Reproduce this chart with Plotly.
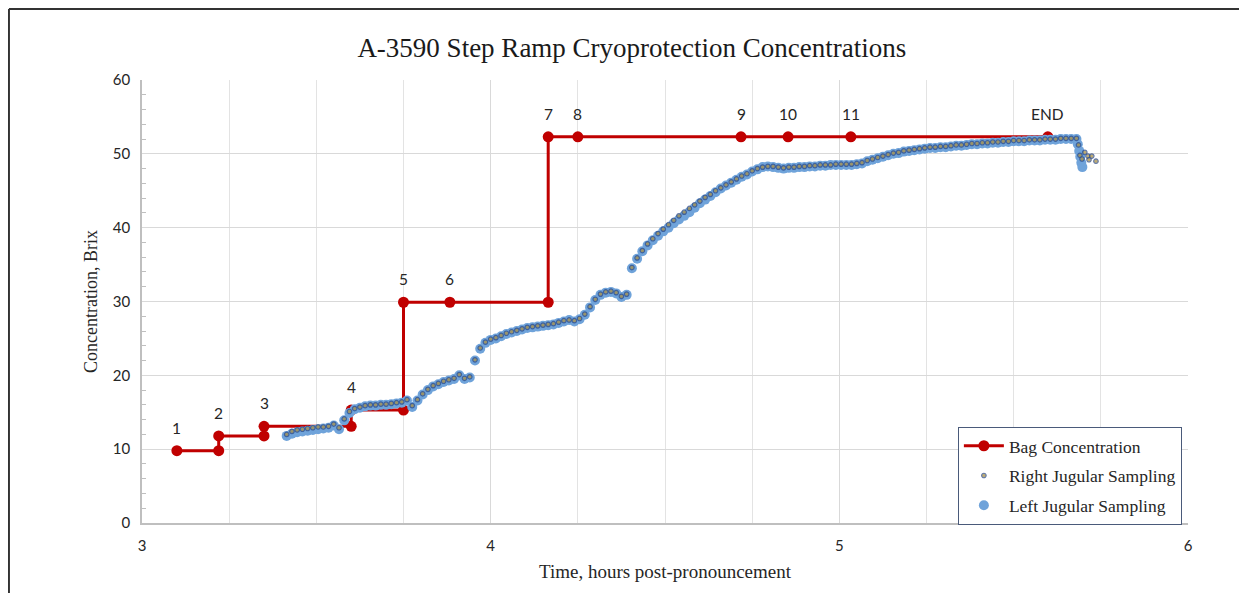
import plotly.graph_objects as go

# ---------------- data ----------------
bag_time = [3.10, 3.22, 3.22, 3.35, 3.35, 3.60, 3.60, 3.75, 3.75, 3.883, 4.165, 4.165,
            4.25, 4.718, 4.853, 5.033, 5.598]
bag_brix = [9.8, 9.8, 11.8, 11.8, 13.1, 13.1, 15.3, 15.3, 29.9, 29.9, 29.9, 52.3,
            52.3, 52.3, 52.3, 52.3, 52.3]

label_time = [3.10, 3.22, 3.35, 3.60, 3.75, 3.883, 4.165, 4.25, 4.718, 4.853, 5.033, 5.598]
label_brix = [9.8, 11.8, 13.1, 15.3, 29.9, 29.9, 52.3, 52.3, 52.3, 52.3, 52.3, 52.3]
label_text = ["1", "2", "3", "4", "5", "6", "7", "8", "9", "10", "11", "END"]

sample_time = [
    3.415, 3.430, 3.445, 3.460, 3.475, 3.490, 3.505, 3.520, 3.535, 3.550,
    3.565, 3.580, 3.595, 3.610, 3.625, 3.640, 3.655, 3.670, 3.685, 3.700,
    3.715, 3.730, 3.745, 3.760, 3.775, 3.790, 3.805, 3.820, 3.835, 3.850,
    3.865, 3.880, 3.895, 3.910, 3.925, 3.940, 3.955, 3.970, 3.985, 4.000,
    4.015, 4.030, 4.045, 4.060, 4.075, 4.090, 4.105, 4.120, 4.135, 4.150,
    4.165, 4.180, 4.195, 4.210, 4.225, 4.240, 4.255, 4.270, 4.285, 4.300,
    4.315, 4.330, 4.345, 4.360, 4.375, 4.390, 4.405, 4.420, 4.435, 4.450,
    4.465, 4.480, 4.495, 4.510, 4.525, 4.540, 4.555, 4.570, 4.585, 4.600,
    4.615, 4.630, 4.645, 4.660, 4.675, 4.690, 4.705, 4.720, 4.735, 4.750,
    4.765, 4.780, 4.795, 4.810, 4.825, 4.840, 4.855, 4.870, 4.885, 4.900,
    4.915, 4.930, 4.945, 4.960, 4.975, 4.990, 5.005, 5.020, 5.035, 5.050,
    5.065, 5.080, 5.095, 5.110, 5.125, 5.140, 5.155, 5.170, 5.185, 5.200,
    5.215, 5.230, 5.245, 5.260, 5.275, 5.290, 5.305, 5.320, 5.335, 5.350,
    5.365, 5.380, 5.395, 5.410, 5.425, 5.440, 5.455, 5.470, 5.485, 5.500,
    5.515, 5.530, 5.545, 5.560, 5.575, 5.590, 5.605, 5.620, 5.635, 5.650,
    5.665, 5.680,
]

left_brix = [
    11.8, 12.1, 12.3, 12.4, 12.5, 12.6, 12.7, 12.8, 12.9, 13.2,
    12.7, 13.9, 14.9, 15.4, 15.6, 15.8, 15.9, 15.9, 16.0, 16.0,
    16.1, 16.2, 16.3, 16.6, 15.7, 16.6, 17.4, 18.0, 18.5, 18.8,
    19.1, 19.3, 19.5, 20.0, 19.5, 19.7, 22.0, 23.6, 24.4, 24.8,
    25.0, 25.3, 25.6, 25.8, 26.0, 26.2, 26.4, 26.5, 26.6, 26.7,
    26.8, 26.9, 27.1, 27.3, 27.5, 27.3, 27.6, 28.2, 29.2, 30.2,
    30.9, 31.2, 31.3, 31.1, 30.6, 30.9, 34.5, 35.8, 36.8, 37.6,
    38.3, 38.9, 39.5, 40.0, 40.6, 41.1, 41.6, 42.1, 42.7, 43.3,
    43.8, 44.3, 44.8, 45.3, 45.7, 46.1, 46.5, 46.9, 47.2, 47.6,
    47.9, 48.2, 48.3, 48.2, 48.1, 48.0, 48.1, 48.1, 48.2, 48.2,
    48.3, 48.3, 48.4, 48.4, 48.5, 48.5, 48.5, 48.5, 48.5, 48.6,
    48.7, 49.0, 49.2, 49.4, 49.6, 49.8, 50.0, 50.1, 50.3, 50.4,
    50.5, 50.6, 50.7, 50.8, 50.8, 50.9, 50.9, 51.0, 51.1, 51.1,
    51.2, 51.3, 51.3, 51.4, 51.4, 51.5, 51.5, 51.6, 51.6, 51.7,
    51.7, 51.7, 51.8, 51.8, 51.8, 51.9, 51.9, 51.9, 52.0, 52.0,
    52.0, 52.0,
]

right_brix = [
    12.0, 12.4, 12.6, 12.7, 12.8, 12.9, 13.0, 13.0, 13.1, 13.4,
    12.9, 14.1, 15.1, 15.5, 15.7, 15.9, 16.0, 16.0, 16.1, 16.1,
    16.2, 16.3, 16.4, 16.7, 15.9, 16.7, 17.5, 18.1, 18.6, 18.9,
    19.2, 19.4, 19.6, 20.1, 19.6, 19.8, 22.1, 23.7, 24.5, 24.9,
    25.1, 25.4, 25.7, 25.9, 26.1, 26.3, 26.5, 26.6, 26.7, 26.8,
    26.9, 27.0, 27.2, 27.4, 27.5, 27.4, 27.7, 28.3, 29.3, 30.3,
    31.0, 31.3, 31.4, 31.2, 30.7, 31.0, 34.6, 35.9, 36.9, 37.8,
    38.5, 39.2, 39.8, 40.4, 41.0, 41.6, 42.1, 42.6, 43.1, 43.6,
    44.1, 44.5, 45.0, 45.4, 45.8, 46.2, 46.6, 47.0, 47.3, 47.7,
    48.0, 48.2, 48.3, 48.3, 48.2, 48.1, 48.2, 48.2, 48.3, 48.3,
    48.4, 48.4, 48.5, 48.5, 48.5, 48.6, 48.6, 48.6, 48.6, 48.7,
    48.8, 49.1, 49.3, 49.5, 49.7, 49.9, 50.1, 50.2, 50.4, 50.5,
    50.6, 50.7, 50.8, 50.9, 50.9, 51.0, 51.0, 51.1, 51.2, 51.2,
    51.3, 51.4, 51.4, 51.5, 51.5, 51.6, 51.6, 51.7, 51.7, 51.8,
    51.8, 51.8, 51.9, 51.9, 51.9, 52.0, 52.0, 52.0, 52.1, 52.1,
    52.1, 52.1,
]

left_tail_time = [5.684, 5.688, 5.691, 5.694, 5.697]
left_tail_brix = [51.3, 50.4, 49.6, 48.8, 48.2]
right_tail_time = [5.686, 5.690, 5.696, 5.704, 5.713, 5.716, 5.724, 5.736]
right_tail_brix = [51.2, 49.8, 49.3, 50.2, 49.7, 49.2, 49.7, 49.0]

# ---------------- figure ----------------
serif = "Liberation Serif, Times New Roman, serif"
sans = "Lato, Open Sans, sans-serif"

fig = go.Figure()

fig.add_trace(go.Scatter(
    x=bag_time, y=bag_brix, mode="lines+markers", name="Bag Concentration",
    line=dict(color="#C00000", width=3),
    marker=dict(color="#C00000", size=11),
    legendrank=1, legendgroup="bag",
))
fig.add_trace(go.Scatter(
    x=sample_time + left_tail_time, y=left_brix + left_tail_brix,
    mode="markers", name="Left Jugular Sampling",
    marker=dict(color="#6FA3DA", size=10, line=dict(width=0)),
    legendrank=3, legendgroup="left",
))
fig.add_trace(go.Scatter(
    x=sample_time + right_tail_time, y=right_brix + right_tail_brix,
    mode="markers", name="Right Jugular Sampling",
    marker=dict(color="#A89048", size=4.5, opacity=0.75,
                line=dict(color="#2E4C8A", width=1.2)),
    legendrank=2, legendgroup="right",
))

for t, b, s in zip(label_time, label_brix, label_text):
    fig.add_annotation(x=t, y=b, text=s, showarrow=False, yanchor="bottom",
                       yshift=12, font=dict(family=sans, size=15.5, color="#262626"))

fig.update_layout(
    width=1239, height=585,
    paper_bgcolor="white", plot_bgcolor="white",
    margin=dict(l=134, r=59, t=72, b=70),
    title=dict(text="A-3590 Step Ramp Cryoprotection Concentrations",
               x=0.5035, xanchor="center", y=0.933, yanchor="middle",
               font=dict(family=serif, size=27, color="#1a1a1a")),
    legend=dict(x=0.780, y=0.217, xanchor="left", yanchor="top",
                bgcolor="white", bordercolor="#4A5A7A", borderwidth=1,
                font=dict(family=serif, size=17.5, color="#262626"),
                itemsizing="trace", itemwidth=40, tracegroupgap=4,
                traceorder="grouped"),
    showlegend=True,
)

fig.update_xaxes(
    range=[3, 6], dtick=1, tick0=3,
    showgrid=True, gridcolor="#D9D9D9", gridwidth=1,
    minor=dict(dtick=0.25, showgrid=True, gridcolor="#E3E3E3", gridwidth=1),
    showline=True, linecolor="#BFBFBF", linewidth=1.5,
    ticks="", zeroline=False,
    ticklabelstandoff=8,
    tickfont=dict(family=sans, size=15, color="#262626"),
    title=dict(text="Time, hours post-pronouncement", standoff=12,
               font=dict(family=serif, size=19, color="#262626")),
)
fig.update_yaxes(
    range=[0, 60], dtick=10, tick0=0,
    showgrid=True, gridcolor="#D9D9D9", gridwidth=1,
    minor=dict(dtick=2, ticks="inside", ticklen=4, tickcolor="#BFBFBF", showgrid=False),
    showline=True, linecolor="#BFBFBF", linewidth=1.5,
    ticks="", zeroline=False,
    ticklabelstandoff=7,
    tickfont=dict(family=sans, size=15, color="#262626"),
    title=dict(text="Concentration, Brix", standoff=11,
               font=dict(family=serif, size=18, color="#262626")),
)

# outer chart frame (top and left edges visible in the reference)
fig.add_shape(type="line", xref="paper", yref="paper",
              x0=-0.1272, x1=1.06, y0=1.1603, y1=1.1603,
              line=dict(color="#333333", width=2))
fig.add_shape(type="line", xref="paper", yref="paper",
              x0=-0.1272, x1=-0.1272, y0=1.1603, y1=-0.16,
              line=dict(color="#333333", width=2))

fig.write_html("out.html")
